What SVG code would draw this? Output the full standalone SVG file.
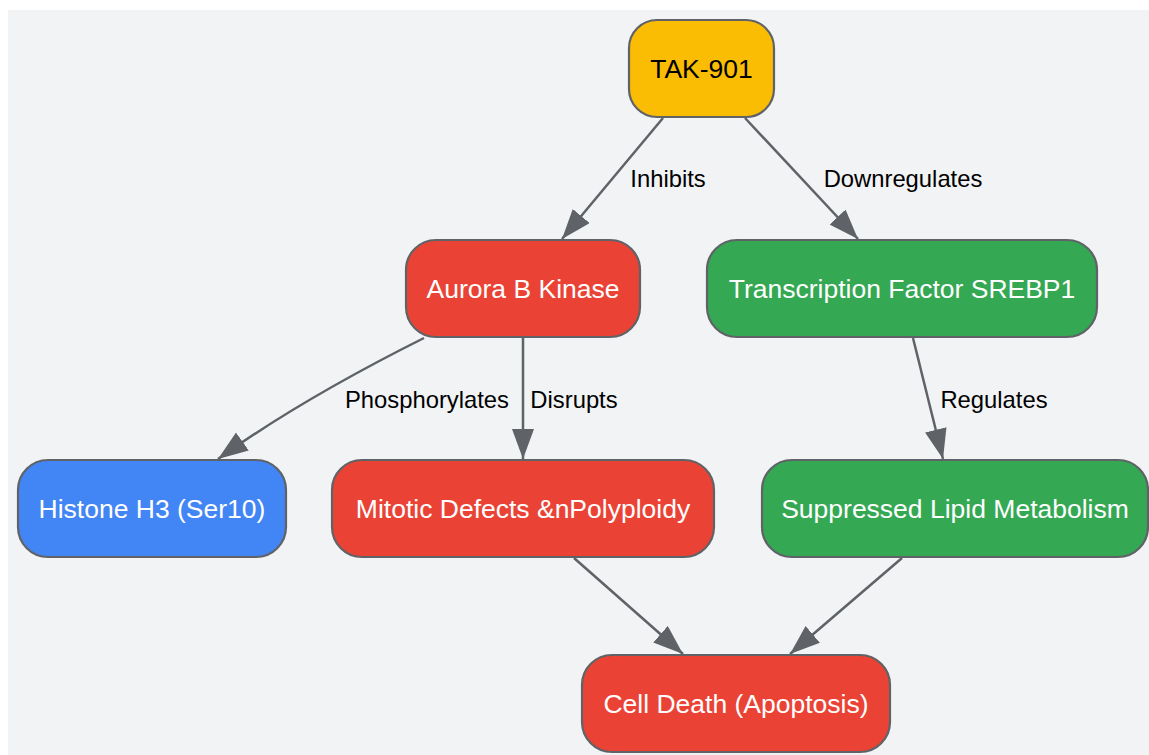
<svg xmlns="http://www.w3.org/2000/svg" width="1149" height="755" viewBox="0 0 1149 755">
<style>
.node rect{stroke:#5f6368;stroke-width:2.2}
.nt{font-family:"Liberation Sans",Arial,sans-serif;font-size:26.5px;text-anchor:middle;fill:#ffffff}
.el{font-family:"Liberation Sans",Arial,sans-serif;font-size:23.8px;text-anchor:middle;fill:#000000}
.edges path{fill:none;stroke:#5f6368;stroke-width:2.5}
</style>
<defs>
<marker id="arr" markerUnits="userSpaceOnUse" markerWidth="32" markerHeight="24" refX="30" refY="11" orient="auto">
<path d="M0,0 L30,11 L0,22 Z" fill="#5f6368"/>
</marker>
</defs>
<rect x="8" y="10" width="1141" height="745" fill="#f1f3f4"/>
<g class="edges">
<path d="M663,118 L562,239" marker-end="url(#arr)"/>
<path d="M745,118 L858,239" marker-end="url(#arr)"/>
<path d="M424,338 C364,368 288,409 218,459" marker-end="url(#arr)"/>
<path d="M523,338 L523,459" marker-end="url(#arr)"/>
<path d="M913,338 L943,459" marker-end="url(#arr)"/>
<path d="M574,558 L683,654" marker-end="url(#arr)"/>
<path d="M902,558 L790,654" marker-end="url(#arr)"/>
<text class="el" x="668" y="187">Inhibits</text>
<text class="el" x="903" y="187">Downregulates</text>
<text class="el" x="427" y="408">Phosphorylates</text>
<text class="el" x="574" y="408">Disrupts</text>
<text class="el" x="994" y="408">Regulates</text>
</g>
<g id="tak901" class="node"><rect x="629" y="20" width="145" height="97" rx="28" fill="#fbbc04"/><text class="nt" x="701.5" y="78" style="fill:#000000">TAK-901</text></g>
<g id="aurora" class="node"><rect x="406" y="240" width="234" height="97" rx="30" fill="#ea4335"/><text class="nt" x="523" y="298">Aurora B Kinase</text></g>
<g id="srebp1" class="node"><rect x="707" y="240" width="390" height="97" rx="30" fill="#34a853"/><text class="nt" x="902" y="298">Transcription Factor SREBP1</text></g>
<g id="histone" class="node"><rect x="18" y="460" width="268" height="97" rx="30" fill="#4285f4"/><text class="nt" x="152" y="518">Histone H3 (Ser10)</text></g>
<g id="mitotic" class="node"><rect x="332" y="460" width="382" height="97" rx="30" fill="#ea4335"/><text class="nt" x="523" y="518">Mitotic Defects &amp;nPolyploidy</text></g>
<g id="lipid" class="node"><rect x="762" y="460" width="386" height="97" rx="30" fill="#34a853"/><text class="nt" x="955" y="518">Suppressed Lipid Metabolism</text></g>
<g id="death" class="node"><rect x="582" y="655" width="308" height="97" rx="30" fill="#ea4335"/><text class="nt" x="736" y="713">Cell Death (Apoptosis)</text></g>
</svg>
